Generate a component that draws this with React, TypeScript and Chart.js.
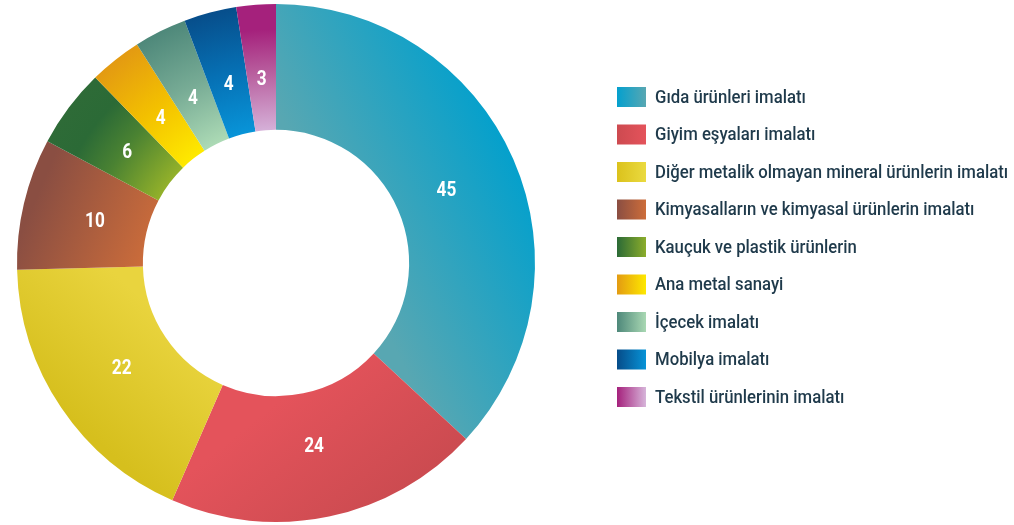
import React, { useEffect, useRef } from "react";
import { Chart, registerables } from "chart.js";

Chart.register(...registerables);

// ---------- DATA ----------
const categories: string[] = [
  "Gıda ürünleri imalatı",
  "Giyim eşyaları imalatı",
  "Diğer metalik olmayan mineral ürünlerin imalatı",
  "Kimyasalların ve kimyasal ürünlerin imalatı",
  "Kauçuk ve plastik ürünlerin",
  "Ana metal sanayi",
  "İçecek imalatı",
  "Mobilya imalatı",
  "Tekstil ürünlerinin imalatı",
];
const values: number[] = [45, 24, 22, 10, 6, 4, 4, 4, 3];
const valueLabels: string[] = ["45", "24", "22", "10", "6", "4", "4", "4", "3"];

// ---------- STYLE ----------
const CUTOUT = 0.514;
const LABEL_RADIUS_FRAC = 0.42;
const flatColors = ["#2aa3c3", "#dc5057", "#e2cb30", "#b0603d", "#4f8531", "#f0b808", "#78ac96", "#0670b4", "#b9609f"];

type Fill =
  | { kind: "linear"; from: [number, number]; to: [number, number]; stops: [number, string][] }
  | { kind: "radial"; stops: [number, string][] };

const sliceFills: Fill[] = [
  { kind: "linear", from: [0.29, -0.01], to: [0.98, -0.35], stops: [[0, "#58a7b2"], [1, "#01a0cd"]] },
  { kind: "linear", from: [0.05, 0.5], to: [0.45, 1.0], stops: [[0, "#e4535b"], [1, "#c94a4f"]] },
  { kind: "linear", from: [-0.5, 0.15], to: [-0.85, 0.55], stops: [[0, "#e9d43e"], [1, "#d6bf1d"]] },
  { kind: "linear", from: [-0.97, -0.15], to: [-0.5, 0.05], stops: [[0, "#8a4e42"], [1, "#cf6e3a"]] },
  { kind: "radial", stops: [[0, "#93b12a"], [0.45, "#4a8232"], [0.75, "#2b6a36"], [1, "#2e6b37"]] },
  { kind: "radial", stops: [[0, "#fee900"], [0.5, "#f3c000"], [1, "#e39a12"]] },
  { kind: "radial", stops: [[0, "#acdab5"], [0.5, "#77ab95"], [1, "#4e887a"]] },
  { kind: "radial", stops: [[0, "#0894d8"], [0.5, "#0670b4"], [1, "#074e8b"]] },
  { kind: "radial", stops: [[0, "#d5b0d8"], [0.45, "#b9609f"], [0.8, "#a5217c"], [1, "#a5217c"]] },
];

const legendSwatches: [string, string][] = [
  ["#04a0ce", "#58a7b2"],
  ["#cd4a50", "#e4535b"],
  ["#dbc21c", "#eada40"],
  ["#8a4e42", "#cd6d3a"],
  ["#2b6a36", "#8cad2b"],
  ["#e39b12", "#fee800"],
  ["#4e887a", "#a9d8b3"],
  ["#064c89", "#0793d7"],
  ["#a5217c", "#d7b5da"],
];

const LEGEND_X = 617;
const LEGEND_Y = 87;
const LEGEND_ROW = 37.5;
const SWATCH_W = 29;
const SWATCH_H = 20;
const TEXT_X = 655;
const LEGEND_FONT = '500 18px Roboto, "Liberation Sans", sans-serif';
const LEGEND_SCALE_X = 0.93;
const LABEL_FONT = 'bold 20px Roboto, "Liberation Sans", sans-serif';
const LABEL_SCALE_X = 0.86;
const LABEL_DY = 2;
const LEGEND_TEXT_COLOR = "#1f3a4b";

function makeFill(chart: any, i: number) {
  const area = chart.chartArea;
  if (!area) return flatColors[i];
  const cx = (area.left + area.right) / 2;
  const cy = (area.top + area.bottom) / 2;
  const R = Math.min(area.right - area.left, area.bottom - area.top) / 2;
  const r0 = R * CUTOUT;
  const spec = sliceFills[i];
  const ctx: CanvasRenderingContext2D = chart.ctx;
  let g: CanvasGradient;
  if (spec.kind === "linear") {
    g = ctx.createLinearGradient(cx + spec.from[0] * R, cy + spec.from[1] * R, cx + spec.to[0] * R, cy + spec.to[1] * R);
  } else {
    g = ctx.createRadialGradient(cx, cy, r0, cx, cy, R);
  }
  spec.stops.forEach(([t, c]) => g.addColorStop(t, c));
  return g;
}

function scaledText(ctx: CanvasRenderingContext2D, text: string, x: number, y: number, sx: number) {
  ctx.save();
  ctx.translate(x, y);
  ctx.scale(sx, 1);
  ctx.fillText(text, 0, 0);
  ctx.restore();
}

const overlayPlugin = {
  id: "overlay",
  afterDatasetsDraw(chart: any) {
    const ctx: CanvasRenderingContext2D = chart.ctx;
    const meta = chart.getDatasetMeta(0);
    ctx.save();
    ctx.fillStyle = "#ffffff";
    ctx.font = LABEL_FONT;
    ctx.textAlign = "center";
    ctx.textBaseline = "middle";
    meta.data.forEach((arc: any, i: number) => {
      const p = arc.getProps(["x", "y", "startAngle", "endAngle", "innerRadius", "outerRadius"], true);
      const mid = (p.startAngle + p.endAngle) / 2;
      const r = p.innerRadius + LABEL_RADIUS_FRAC * (p.outerRadius - p.innerRadius);
      scaledText(ctx, valueLabels[i], p.x + Math.cos(mid) * r, p.y + Math.sin(mid) * r + LABEL_DY, LABEL_SCALE_X);
    });
    ctx.restore();
  },
  afterDraw(chart: any) {
    const ctx: CanvasRenderingContext2D = chart.ctx;
    ctx.save();
    categories.forEach((name, i) => {
      const y = LEGEND_Y + i * LEGEND_ROW;
      const g = ctx.createLinearGradient(LEGEND_X, 0, LEGEND_X + SWATCH_W, 0);
      g.addColorStop(0, legendSwatches[i][0]);
      g.addColorStop(1, legendSwatches[i][1]);
      ctx.fillStyle = g;
      ctx.fillRect(LEGEND_X, y, SWATCH_W, SWATCH_H);
      ctx.fillStyle = LEGEND_TEXT_COLOR;
      ctx.font = LEGEND_FONT;
      ctx.textAlign = "left";
      ctx.textBaseline = "middle";
      scaledText(ctx, name, TEXT_X, y + SWATCH_H / 2 + 1, LEGEND_SCALE_X);
    });
    ctx.restore();
  },
};

export default function App() {
  const ref = useRef<HTMLCanvasElement | null>(null);
  useEffect(() => {
    document.body.style.margin = "0";
    document.body.style.background = "#ffffff";
    if (!ref.current) return;
    const chart = new Chart(ref.current, {
      type: "doughnut",
      data: {
        labels: categories,
        datasets: [
          {
            data: values,
            backgroundColor: (c: any) => makeFill(c.chart, c.dataIndex),
            borderWidth: 0,
            hoverOffset: 0,
          },
        ],
      },
      options: {
        responsive: false,
        devicePixelRatio: 1,
        animation: false,
        cutout: CUTOUT * 100 + "%",
        layout: { padding: { left: 17, top: 4, right: 479, bottom: 3 } },
        plugins: { legend: { display: false }, tooltip: { enabled: false } },
        events: [],
      },
      plugins: [overlayPlugin],
    });
    return () => chart.destroy();
  }, []);
  return <canvas ref={ref} width={1014} height={525} style={{ display: "block" }} />;
}
